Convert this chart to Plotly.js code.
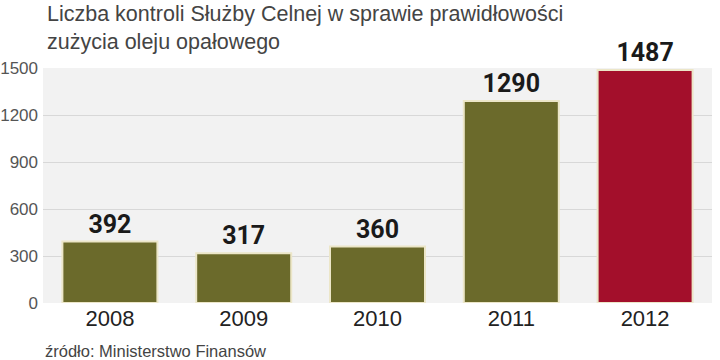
<!DOCTYPE html>
<html><head><meta charset="utf-8">
<script src="https://cdn.plot.ly/plotly-3.0.1.min.js"></script>
<style>body{margin:0;background:#fff}#c{width:720px;height:360px}</style>
</head><body><div id="c"></div>
<script>
const years = ['2008','2009','2010','2011','2012'];
const counts = [392, 317, 360, 1290, 1487];
const barColors = ['#6b6a2b','#6b6a2b','#6b6a2b','#6b6a2b','#a30f2b'];
const yTicks = [0, 300, 600, 900, 1200, 1500];
const titleText = 'Liczba kontroli Służby Celnej w sprawie prawidłowości<br>zużycia oleju opałowego';
const sourceText = 'źródło: Ministerstwo Finansów';

Plotly.newPlot('c', [{
  type: 'bar', x: years, y: counts,
  marker: {color: barColors, line: {color: '#ece6c8', width: 2}},
  text: counts.map(String), textposition: 'outside', cliponaxis: false,
  textfont: {family: 'Roboto', size: 25, color: '#1a1a1a', weight: 'bold'},
  hoverinfo: 'none'
}], {
  width: 720, height: 360,
  margin: {l: 43, r: 8, t: 68, b: 57},
  paper_bgcolor: '#ffffff', plot_bgcolor: '#f2f2f2',
  bargap: 0.29,
  showlegend: false,
  xaxis: {type: 'category', showgrid: false, zeroline: false, ticks: '',
    tickfont: {family: 'Liberation Sans', size: 22, color: '#222'}},
  yaxis: {range: [0, 1500], tickvals: yTicks, showgrid: true, gridcolor: '#d8d8d8', gridwidth: 1,
    zeroline: false, ticks: '', ticklabelstandoff: 4,
    tickfont: {family: 'Liberation Sans', size: 17, color: '#555'}},
  annotations: [
    {text: titleText, xref: 'paper', yref: 'paper', x: 0.003, y: 1.29,
      xanchor: 'left', yanchor: 'top', align: 'left', showarrow: false,
      font: {family: 'Liberation Sans', size: 21.5, color: '#444'}},
    {text: sourceText, xref: 'paper', yref: 'paper', x: 0.0, y: -0.206,
      xanchor: 'left', yanchor: 'middle', showarrow: false,
      font: {family: 'Liberation Sans', size: 16.5, color: '#444'}}]
}, {displayModeBar: false, staticPlot: true});
</script></body></html>
